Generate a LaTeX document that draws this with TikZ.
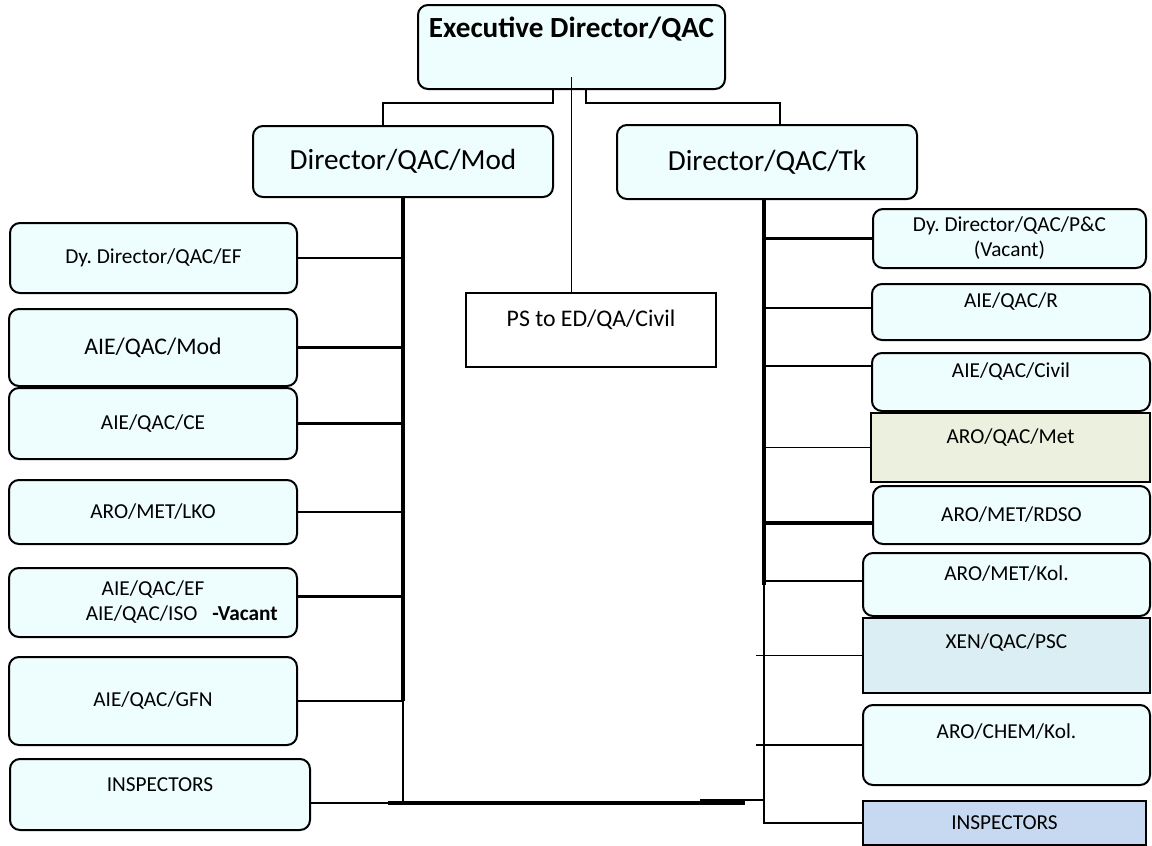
\documentclass[tikz,border=0pt]{standalone}
\usepackage{fontspec}
\setmainfont{Carlito}
\frenchspacing
\definecolor{boxfill}{HTML}{EEFDFE}
\definecolor{metfill}{HTML}{EBF1DE}
\definecolor{pscfill}{HTML}{DBEEF3}
\definecolor{inspfill}{HTML}{C6D9F1}
\begin{document}
\begin{tikzpicture}[x=1pt,y=-1pt,
  orgbox/.style={draw, line width=2pt, rounded corners=10pt, fill=boxfill, inner sep=0pt, font=\smallfs},
  flatbox/.style={draw, line width=2pt, inner sep=0pt, font=\smallfs},
  toptext/.style={anchor=base, inner sep=0pt, yshift=-#1},
  link/.style={line width=2.6pt},
  heavy link/.style={line width=3.2pt},
  light link/.style={line width=1.6pt}]
\providecommand\smallfs{\fontsize{21.3}{25}\selectfont}
\providecommand\midfs{\fontsize{23.8}{28}\selectfont}
\providecommand\bigfs{\fontsize{29.2}{35}\selectfont}
\useasboundingbox (0,0) rectangle (1152,846);

\node[orgbox, minimum width=307pt, minimum height=84pt, label={[toptext=33pt, font=\bigfs\bfseries]north:Executive Director/QAC}] (ed) at (571.5,47) {};
\node[orgbox, minimum width=300pt, minimum height=71pt, font=\bigfs] (dirMod) at (403,161.5) {Director/QAC/Mod};
\node[orgbox, minimum width=300pt, minimum height=74pt, font=\bigfs] (dirTk) at (767,162) {Director/QAC/Tk};
\node[flatbox, fill=white, minimum width=250pt, minimum height=74pt, label={[toptext=34pt, font=\midfs]north:PS to ED/QA/Civil}] (ps) at (591,330) {};

\node[orgbox, minimum width=287pt, minimum height=70pt] (ddEF) at (153.5,258) {Dy. Director/QAC/EF};
\node[orgbox, minimum width=288pt, minimum height=77pt, font=\midfs] (aieMod) at (153,347.5) {AIE/QAC/Mod};
\node[orgbox, minimum width=288pt, minimum height=71pt] (aieCE) at (153,423.5) {AIE/QAC/CE};
\node[orgbox, minimum width=288pt, minimum height=64pt] (aroLKO) at (153,512) {ARO/MET/LKO};
\node[orgbox, minimum width=288pt, minimum height=69pt, align=center] (aieEF) at (153,602.5) {AIE/QAC/EF\\\hspace*{2.7em}AIE/QAC/ISO\hspace{0.7em}\textbf{-Vacant}};
\node[orgbox, minimum width=288pt, minimum height=88pt] (aieGFN) at (153,701) {AIE/QAC/GFN};
\node[orgbox, minimum width=300pt, minimum height=71pt, label={[toptext=33pt, font=\smallfs]north:INSPECTORS}] (inspL) at (160,794.5) {};

\node[orgbox, minimum width=273pt, minimum height=59pt, align=center] (ddPC) at (1009.5,238.5) {Dy. Director/QAC/P\&C\\(Vacant)};
\node[orgbox, minimum width=278pt, minimum height=56pt, label={[toptext=24pt, font=\smallfs]north:AIE/QAC/R}] (aieR) at (1011,312) {};
\node[orgbox, minimum width=278pt, minimum height=58pt, label={[toptext=25pt, font=\smallfs]north:AIE/QAC/Civil}] (aieCivil) at (1011,382) {};
\node[flatbox, fill=metfill, minimum width=279pt, minimum height=69pt, label={[toptext=31pt, font=\smallfs]north:ARO/QAC/Met}] (aroMet) at (1010.5,447.5) {};
\node[orgbox, minimum width=277pt, minimum height=58pt] (aroRDSO) at (1011.5,515) {ARO/MET/RDSO};
\node[orgbox, minimum width=287pt, minimum height=63pt, label={[toptext=28pt, font=\smallfs]north:ARO/MET/Kol.}] (aroKol) at (1006.5,584.5) {};
\node[flatbox, fill=pscfill, minimum width=287pt, minimum height=75pt, label={[toptext=31pt, font=\smallfs]north:XEN/QAC/PSC}] (xenPSC) at (1006.5,655.5) {};
\node[orgbox, minimum width=287pt, minimum height=80pt, label={[toptext=34pt, font=\smallfs]north:ARO/CHEM/Kol.}] (aroChem) at (1006.5,745) {};
\node[flatbox, fill=inspfill, minimum width=283pt, minimum height=44pt] (inspR) at (1004.5,823) {INSPECTORS};

\coordinate (trunkR) at ([xshift=-3pt]dirTk.south);
\coordinate (botL) at (403,803);
\coordinate (busA) at (388,803);
\coordinate (busB) at (745,803);
\coordinate (busC) at (700,800);

\draw[link] ([xshift=-18.5pt]ed.south) -- ++(0,13) -| ([xshift=-20pt]dirMod.north);
\draw[link] ([xshift=14.5pt]ed.south) -- ++(0,13) -| ([xshift=13pt]dirTk.north);
\draw[light link] ([xshift=-19.5pt]ps.north) -- ++(0,-215);

\draw[heavy link] (dirMod.south) -- (dirMod.south |- aieGFN.east);
\draw[light link] (dirMod.south |- aieGFN.east) -- (botL);
\foreach \b in {ddEF,aieMod,aieCE,aroLKO,aieGFN}
  \draw[link] (\b.east) -- (\b.east -| dirMod.south);
\draw[link] ([yshift=6pt]aieEF.east) -- ++(106,0);
\draw[light link] ([yshift=-8.5pt]inspL.east) -- (botL);
\draw[heavy link] (busA) -- (busB);
\draw[light link] (busC) -- (busC -| trunkR);

\draw[heavy link] (trunkR) -- (trunkR |- aroKol.west);
\draw[link] (trunkR |- aroKol.west) |- (inspR.west);
\draw[link] (ddPC.west) -- (ddPC.west -| trunkR);
\draw[link] ([yshift=4pt]aieR.west) -- ++(-108,0);
\draw[link] ([yshift=16pt]aieCivil.west) -- ++(-108,0);
\draw[light link] (aroMet.west) -- (aroMet.west -| trunkR);
\draw[heavy link] ([yshift=-8pt]aroRDSO.west) -- ++(-109,0);
\draw[light link] ([yshift=3.5pt]aroKol.west) -- ++(-99,0);
\draw[light link] (xenPSC.west) -- ++(-106,0);
\draw[light link] (aroChem.west) -- ++(-106,0);
\end{tikzpicture}
\end{document}
